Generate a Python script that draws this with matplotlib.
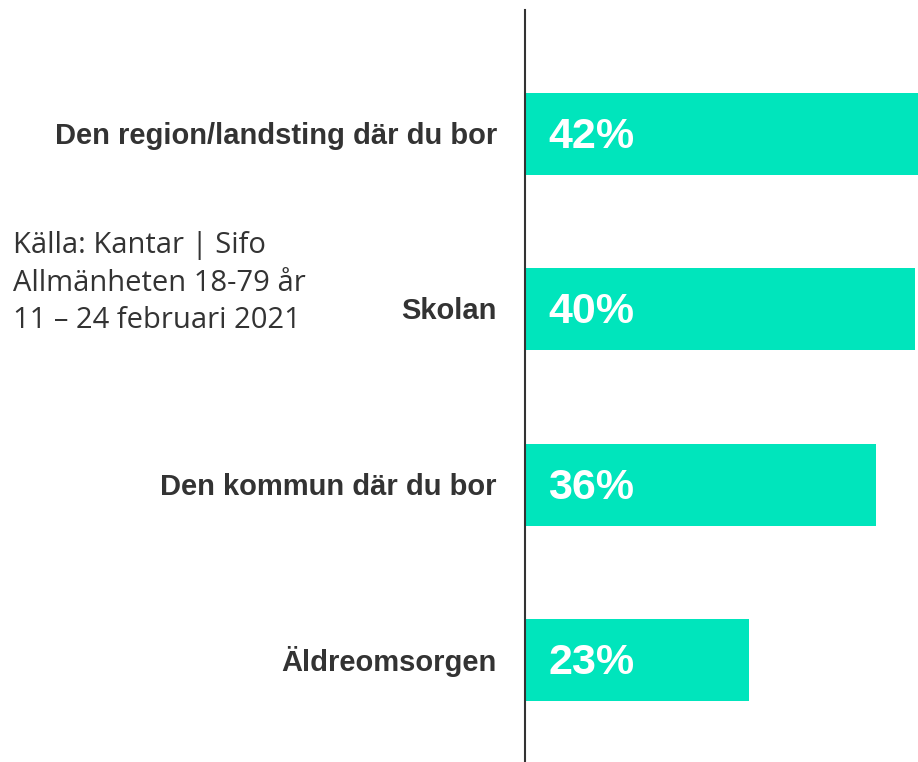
import matplotlib
matplotlib.use("Agg")
import matplotlib.pyplot as plt

# data
categories = ["Den region/landsting där du bor", "Skolan", "Den kommun där du bor", "Äldreomsorgen"]
values = [42, 40, 36, 23]
value_labels = ["42%", "40%", "36%", "23%"]
source_lines = ["Källa: Kantar | Sifo", "Allmänheten 18-79 år", "11 – 24 februari 2021"]

bar_color = "#00E5BC"
text_color = "#333333"

fig = plt.figure(figsize=(9.18, 7.62), dpi=100)
ax = fig.add_axes([525 / 918, 0.0, 1 - 525 / 918, 1 - 10 / 762])

y = list(range(len(categories)))
ax.barh(y, values, height=0.468, color=bar_color, zorder=1)

ax.set_xlim(0, 40.35)
ax.set_ylim(3.582, -0.707)

for i, (cat, lab) in enumerate(zip(categories, value_labels)):
    ax.annotate(cat, xy=(0, i), xycoords="data", xytext=(-28, -2), textcoords="offset pixels",
                ha="right", va="center", fontsize=21, fontweight="bold",
                family="Liberation Sans", color=text_color, annotation_clip=False)
    ax.annotate(lab, xy=(0, i), xycoords="data", xytext=(23, -3), textcoords="offset pixels",
                ha="left", va="center", fontsize=31, fontweight="bold",
                family="Liberation Sans", color="white", zorder=3)

for s in ["top", "right", "bottom"]:
    ax.spines[s].set_visible(False)
ax.spines["left"].set_color(text_color)
ax.spines["left"].set_linewidth(1.5)
ax.spines["left"].set_zorder(4)
ax.set_xticks([])
ax.set_yticks([])

# source note
for k, line in enumerate(source_lines):
    fig.text(13 / 918, 1 - (246 + 37.5 * k) / 762, line, ha="left", va="center",
             fontsize=21, family="Open Sans", color=text_color)

fig.savefig("out.png", dpi=100)
